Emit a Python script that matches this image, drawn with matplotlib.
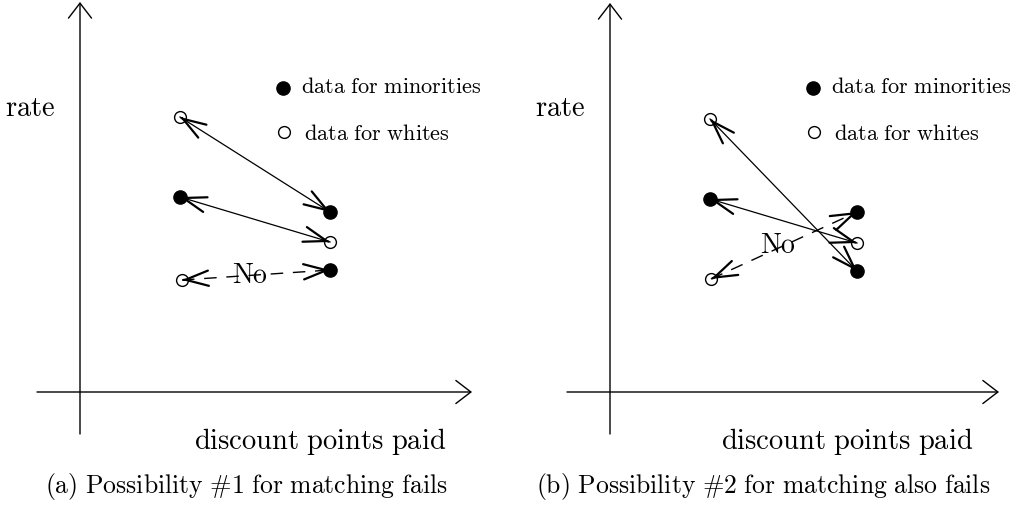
import numpy as np
import matplotlib
matplotlib.use("Agg")
import matplotlib.pyplot as plt

plt.rcParams["mathtext.fontset"] = "cm"

# Panel (a): points (x = discount points, y = rate)
white_a_x = [2.0, 5.0, 2.04]
white_a_y = [5.5, 3.0, 2.24]
minor_a_x = [2.0, 5.0, 5.0]
minor_a_y = [3.9, 3.6, 2.44]
solid_a = [("w", 0, "m", 1), ("m", 0, "w", 1)]
dashed_a = ("w", 2, "m", 2)

# Panel (b)
white_b_x = [2.0, 4.94, 2.02]
white_b_y = [5.46, 2.98, 2.26]
minor_b_x = [2.0, 4.94, 4.94]
minor_b_y = [3.86, 3.6, 2.42]
solid_b = [("w", 0, "m", 2), ("m", 0, "w", 1)]
dashed_b = ("w", 2, "m", 1)

captions = [r"$\mathrm{(a)\ Possibility\ \#1\ for\ matching\ fails}$",
            r"$\mathrm{(b)\ Possibility\ \#2\ for\ matching\ also\ fails}$"]
legend_labels = [r"$\mathrm{data\ for\ minorities}$", r"$\mathrm{data\ for\ whites}$"]


def head(ax, tip, other):
    # short stub so only the arrow head shows, drawn thicker than the shaft
    tip = np.array(tip)
    other = np.array(other)
    start = tip + 0.01 * (other - tip)
    ax.annotate("", xy=tip, xytext=start,
                arrowprops=dict(arrowstyle="->,head_length=1.65,head_width=0.55",
                                lw=1.6, color="k", shrinkA=0, shrinkB=0))


def axis_arrow(ax, start, end):
    ax.annotate("", xy=end, xytext=start,
                arrowprops=dict(arrowstyle="->,head_length=1.08,head_width=0.83",
                                lw=1.0, color="k", shrinkA=0, shrinkB=0))


def draw_panel(ax, wx, wy, mx, my, solid, dashed, xr, yr, xlim, caption, caption_x, xlabel_x):
    ax.set_xlim(*xlim)
    ax.set_ylim(-2.34, 7.86)
    ax.axis("off")

    axis_arrow(ax, (0, yr[0]), (0, yr[1]))
    axis_arrow(ax, (xr[0], 0), (xr[1], 0))

    ax.text(-1.0, 5.7, r"$\mathrm{rate}$", fontsize=20.5, ha="center", va="center")
    ax.text(xlabel_x, -0.98, r"$\mathrm{discount\ points\ paid}$", fontsize=20.5,
            ha="center", va="center")

    # legend
    ax.plot([4.05], [6.08], "o", color="k", ms=9.5)
    ax.plot([4.07], [5.2], "o", mfc="none", mec="k", ms=8.5, mew=1)
    ax.text(4.42, 6.0, legend_labels[0], fontsize=16, ha="left", va="baseline")
    ax.text(4.48, 5.05, legend_labels[1], fontsize=16, ha="left", va="baseline")

    pts = {"w": list(zip(wx, wy)), "m": list(zip(mx, my))}

    ax.plot(wx, wy, "o", mfc="none", mec="k", ms=8.5, mew=1, zorder=2)
    ax.plot(mx, my, "o", color="k", ms=9.5, zorder=2)

    for k1, i1, k2, i2 in solid:
        p, q = pts[k1][i1], pts[k2][i2]
        ax.plot([p[0], q[0]], [p[1], q[1]], color="k", lw=0.9, zorder=3)
        head(ax, p, q)
        head(ax, q, p)

    k1, i1, k2, i2 = dashed
    p, q = pts[k1][i1], pts[k2][i2]
    ax.plot([p[0], q[0]], [p[1], q[1]], color="k", lw=1.0, dashes=(9, 7), zorder=3)
    head(ax, p, q)
    head(ax, q, p)
    mid = ((p[0] + q[0]) / 2 - 0.12, (p[1] + q[1]) / 2 + 0.02)
    ax.text(mid[0], mid[1], r"$\mathrm{No}$", fontsize=20, ha="center", va="center",
            zorder=4)

    ax.text(caption_x, -1.88, caption, fontsize=18.5, ha="center", va="center")


fig = plt.figure(figsize=(10.16, 5.10), dpi=100)
ax_a = fig.add_axes([0, 0, 0.5, 1])
ax_b = fig.add_axes([0.5, 0, 0.5, 1])

draw_panel(ax_a, white_a_x, white_a_y, minor_a_x, minor_a_y, solid_a, dashed_a,
           xr=(-0.86, 7.84), yr=(-0.84, 7.8), xlim=(-1.6, 8.56),
           caption=captions[0], caption_x=3.32, xlabel_x=4.8)
draw_panel(ax_b, white_b_x, white_b_y, minor_b_x, minor_b_y, solid_b, dashed_b,
           xr=(-0.86, 7.78), yr=(-0.84, 7.78), xlim=(-2.04, 8.12),
           caption=captions[1], caption_x=3.06, xlabel_x=4.74)

fig.savefig("out.png", dpi=100)
